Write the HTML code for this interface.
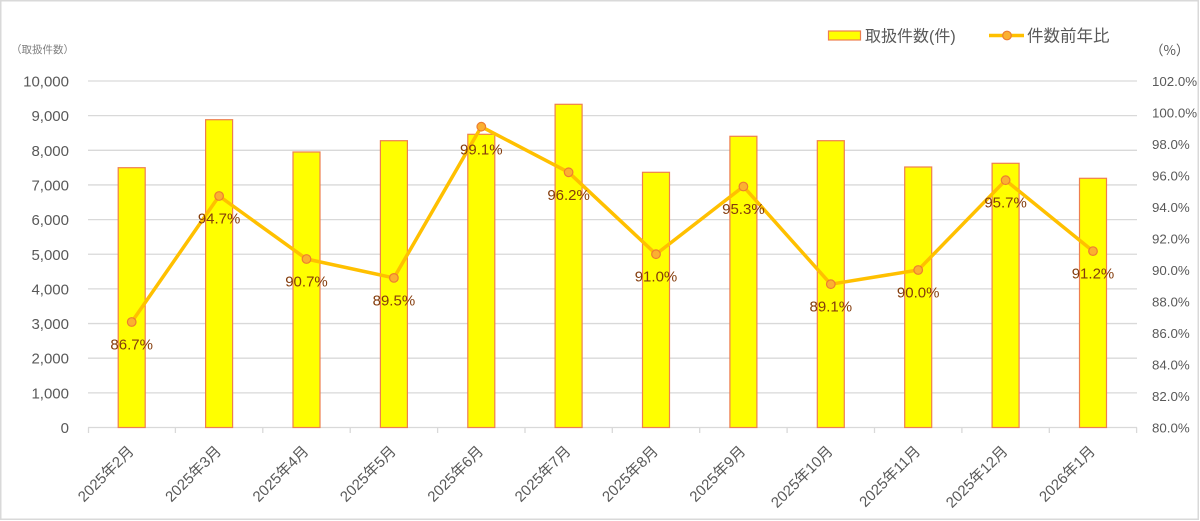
<!DOCTYPE html>
<html><head><meta charset="utf-8"><style>
html,body{margin:0;padding:0;background:#fff;}
svg{display:block;}
text{font-family:"Liberation Sans","Noto Sans CJK JP",sans-serif;}
.cjk{font-family:"Noto Sans CJK JP","Liberation Sans",sans-serif;}
</style></head><body>
<svg width="1200" height="521" viewBox="0 0 1200 521" xmlns="http://www.w3.org/2000/svg">
<rect x="0.75" y="0.75" width="1197.5" height="518.5" fill="#fff" stroke="#d9d9d9" stroke-width="1.5"/>
<!-- gridlines -->
<g stroke="#d9d9d9" stroke-width="1.3">
<line x1="88" x2="1137" y1="81" y2="81"/>
<line x1="88" x2="1137" y1="115.65" y2="115.65"/>
<line x1="88" x2="1137" y1="150.3" y2="150.3"/>
<line x1="88" x2="1137" y1="184.95" y2="184.95"/>
<line x1="88" x2="1137" y1="219.6" y2="219.6"/>
<line x1="88" x2="1137" y1="254.25" y2="254.25"/>
<line x1="88" x2="1137" y1="288.9" y2="288.9"/>
<line x1="88" x2="1137" y1="323.55" y2="323.55"/>
<line x1="88" x2="1137" y1="358.2" y2="358.2"/>
<line x1="88" x2="1137" y1="392.85" y2="392.85"/>
<line x1="88" x2="1137" y1="427.5" y2="427.5"/>
</g>
<g stroke="#d9d9d9" stroke-width="1.3">
<line x1="88.5" x2="88.5" y1="427.5" y2="433"/>
<line x1="175.4" x2="175.4" y1="427.5" y2="433"/>
<line x1="262.8" x2="262.8" y1="427.5" y2="433"/>
<line x1="350.2" x2="350.2" y1="427.5" y2="433"/>
<line x1="437.6" x2="437.6" y1="427.5" y2="433"/>
<line x1="525" x2="525" y1="427.5" y2="433"/>
<line x1="612.3" x2="612.3" y1="427.5" y2="433"/>
<line x1="699.7" x2="699.7" y1="427.5" y2="433"/>
<line x1="787.1" x2="787.1" y1="427.5" y2="433"/>
<line x1="874.5" x2="874.5" y1="427.5" y2="433"/>
<line x1="961.9" x2="961.9" y1="427.5" y2="433"/>
<line x1="1049.3" x2="1049.3" y1="427.5" y2="433"/>
<line x1="1136.6" x2="1136.6" y1="427.5" y2="433"/>
</g>
<!-- bars -->
<g fill="#ffff00" stroke="#ee7f4f" stroke-width="1.2">
<rect x="118.2" y="167.7" width="27" height="259.8"/>
<rect x="205.6" y="119.7" width="27" height="307.8"/>
<rect x="293" y="152" width="27" height="275.5"/>
<rect x="380.4" y="140.7" width="27" height="286.8"/>
<rect x="467.8" y="134.3" width="27" height="293.2"/>
<rect x="555.1" y="104.3" width="27" height="323.2"/>
<rect x="642.5" y="172.3" width="27" height="255.2"/>
<rect x="729.9" y="136.3" width="27" height="291.2"/>
<rect x="817.3" y="140.7" width="27" height="286.8"/>
<rect x="904.7" y="167" width="27" height="260.5"/>
<rect x="992.1" y="163.3" width="27" height="264.2"/>
<rect x="1079.5" y="178.3" width="27" height="249.2"/>
</g>
<!-- line -->
<polyline fill="none" stroke="#ffc000" stroke-width="3.5" stroke-linejoin="round" points="131.7,322 219.1,196 306.5,259 393.9,277.9 481.3,126.7 568.6,172.3 656,254.2 743.4,186.5 830.8,284.2 918.2,270 1005.6,180.2 1093,251.1"/>
<g fill="#fbb030" stroke="#ed7d31" stroke-width="1.2">
<circle cx="131.7" cy="322" r="4.3"/>
<circle cx="219.1" cy="196" r="4.3"/>
<circle cx="306.5" cy="259" r="4.3"/>
<circle cx="393.9" cy="277.9" r="4.3"/>
<circle cx="481.3" cy="126.7" r="4.3"/>
<circle cx="568.6" cy="172.3" r="4.3"/>
<circle cx="656" cy="254.2" r="4.3"/>
<circle cx="743.4" cy="186.5" r="4.3"/>
<circle cx="830.8" cy="284.2" r="4.3"/>
<circle cx="918.2" cy="270" r="4.3"/>
<circle cx="1005.6" cy="180.2" r="4.3"/>
<circle cx="1093" cy="251.1" r="4.3"/>
</g>
<!-- data labels -->
<g fill="#843c0c" font-size="15" text-anchor="middle">
<text x="131.7" y="349.5">86.7%</text>
<text x="219.1" y="223.5">94.7%</text>
<text x="306.5" y="286.5">90.7%</text>
<text x="393.9" y="305.4">89.5%</text>
<text x="481.3" y="154.5">99.1%</text>
<text x="568.6" y="199.8">96.2%</text>
<text x="656" y="281.7">91.0%</text>
<text x="743.4" y="214">95.3%</text>
<text x="830.8" y="311.7">89.1%</text>
<text x="918.2" y="297.5">90.0%</text>
<text x="1005.6" y="207.7">95.7%</text>
<text x="1093" y="278.6">91.2%</text>
</g>
<!-- left axis -->
<g fill="#595959" font-size="15" text-anchor="end">
<text x="69" y="86.5">10,000</text>
<text x="69" y="121.2">9,000</text>
<text x="69" y="155.8">8,000</text>
<text x="69" y="190.5">7,000</text>
<text x="69" y="225.1">6,000</text>
<text x="69" y="259.8">5,000</text>
<text x="69" y="294.4">4,000</text>
<text x="69" y="329.1">3,000</text>
<text x="69" y="363.7">2,000</text>
<text x="69" y="398.4">1,000</text>
<text x="69" y="433">0</text>
</g>
<!-- right axis -->
<g fill="#595959" font-size="13.3">
<text x="1152" y="86">102.0%</text>
<text x="1152" y="117.5">100.0%</text>
<text x="1152" y="149">98.0%</text>
<text x="1152" y="180.5">96.0%</text>
<text x="1152" y="212">94.0%</text>
<text x="1152" y="243.5">92.0%</text>
<text x="1152" y="275">90.0%</text>
<text x="1152" y="306.5">88.0%</text>
<text x="1152" y="338">86.0%</text>
<text x="1152" y="369.5">84.0%</text>
<text x="1152" y="401">82.0%</text>
<text x="1152" y="432.5">80.0%</text>
</g>
<!-- axis titles -->
<text class="cjk" x="11" y="53" fill="#7f7f7f" font-size="10.5">（取扱件数）</text>
<text class="cjk" x="1150" y="55" fill="#595959" font-size="13.5">（%）</text>
<!-- x labels -->
<g fill="#595959" font-size="15" text-anchor="end">
<text x="134.7" y="452" transform="rotate(-45 134.7 452)">2025年2月</text>
<text x="222.1" y="452" transform="rotate(-45 222.1 452)">2025年3月</text>
<text x="309.5" y="452" transform="rotate(-45 309.5 452)">2025年4月</text>
<text x="396.9" y="452" transform="rotate(-45 396.9 452)">2025年5月</text>
<text x="484.3" y="452" transform="rotate(-45 484.3 452)">2025年6月</text>
<text x="571.6" y="452" transform="rotate(-45 571.6 452)">2025年7月</text>
<text x="659" y="452" transform="rotate(-45 659 452)">2025年8月</text>
<text x="746.4" y="452" transform="rotate(-45 746.4 452)">2025年9月</text>
<text x="833.8" y="452" transform="rotate(-45 833.8 452)">2025年10月</text>
<text x="921.2" y="452" transform="rotate(-45 921.2 452)">2025年11月</text>
<text x="1008.6" y="452" transform="rotate(-45 1008.6 452)">2025年12月</text>
<text x="1096" y="452" transform="rotate(-45 1096 452)">2026年1月</text>
</g>
<!-- legend -->
<rect x="828.5" y="31" width="32" height="9" fill="#ffff00" stroke="#ee7f4f" stroke-width="1.2"/>
<text x="865" y="41.5" fill="#595959" font-size="16">取扱件数(件)</text>
<line x1="989" x2="1024" y1="35.5" y2="35.5" stroke="#ffc000" stroke-width="3.5"/>
<circle cx="1007" cy="35.5" r="4.3" fill="#fbb030" stroke="#ed7d31" stroke-width="1.2"/>
<text x="1027" y="41.5" fill="#595959" font-size="16.5">件数前年比</text>
</svg>
</body></html>
